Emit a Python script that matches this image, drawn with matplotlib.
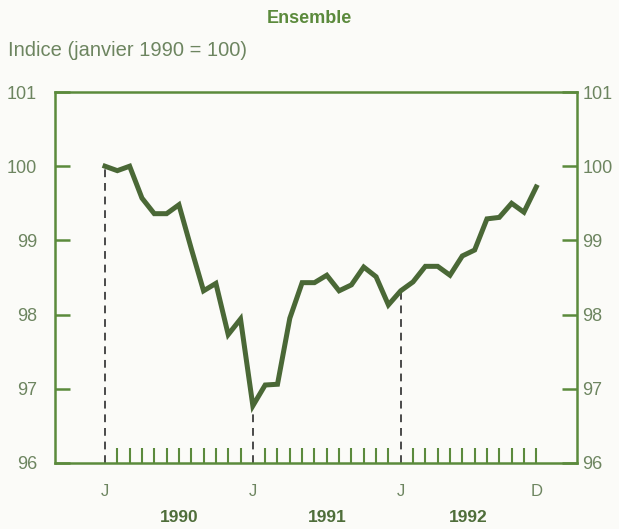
import numpy as np
import matplotlib
matplotlib.use('Agg')
import matplotlib.pyplot as plt
import matplotlib.transforms as mtransforms

# indice mensuel, janvier 1990 a decembre 1992
mois = np.arange(36)
indice = [100.00, 99.94, 100.00, 99.57, 99.36, 99.36, 99.48, 98.89, 98.32, 98.42, 97.73, 97.94,
          96.77, 97.05, 97.06, 97.95, 98.43, 98.43, 98.53, 98.32, 98.40, 98.64, 98.51, 98.13,
          98.32, 98.44, 98.65, 98.65, 98.53, 98.79, 98.87, 99.29, 99.31, 99.50, 99.38, 99.72]
mois_labels = ['J', 'J', 'J', 'D']
mois_pos = [0, 12, 24, 35]
annees = ['1990', '1991', '1992']
annees_pos = [6, 18, 29.5]
reperes = [0, 12, 24]  # lignes pointillees
y_ticks = [96, 97, 98, 99, 100, 101]

vert = '#5b8a3c'
gris_vert = '#6d8560'
plt.rcParams['font.family'] = ['Liberation Sans', 'DejaVu Sans']

fig = plt.figure(figsize=(6.19, 5.29), dpi=100, facecolor='#fbfbf8')
ax = fig.add_axes([0.089, 0.125, 0.843, 0.701])
ax.set_facecolor('#fbfbf8')

ax.plot(mois, indice, color='#4a6836', lw=3.6, solid_joinstyle='miter', zorder=3)
ax.vlines(reperes, 96, [indice[i] for i in reperes], colors='#4a4a4a',
          linestyles=(0, (4, 3)), lw=1.4, zorder=2)

ax.set_xlim(-4.05, 38.3)
ax.set_ylim(96, 101)

for s in ax.spines.values():
    s.set_color(vert)
    s.set_linewidth(1.8)

ax.set_yticks(y_ticks)
ax.set_yticklabels([str(v) for v in y_ticks])
ax.tick_params(axis='y', direction='in', length=11, width=1.8, color=vert,
               left=True, right=False, labelsize=13, labelcolor=gris_vert, pad=13)

# axe de droite (memes graduations)
ax2 = ax.twinx()
ax2.set_ylim(96, 101)
ax2.set_yticks(y_ticks)
ax2.set_yticklabels([str(v) for v in y_ticks])
ax2.tick_params(axis='y', direction='in', length=11, width=1.8, color=vert,
                labelsize=13, labelcolor=gris_vert, pad=4)
for s in ax2.spines.values():
    s.set_visible(False)

ax.xaxis.remove_overlapping_locs = False
ax.set_xticks(mois_pos)
ax.set_xticklabels(mois_labels)
ax.set_xticks([m for m in mois if m not in reperes], minor=True)
ax.tick_params(axis='x', which='major', length=0, labelsize=12, labelcolor=gris_vert, pad=15)
ax.tick_params(axis='x', which='minor', direction='in', length=11, width=1.5, color=vert)

trans = mtransforms.blended_transform_factory(ax.transData, ax.transAxes)
for a, x in zip(annees, annees_pos):
    ax.text(x, -0.148, a, transform=trans, ha='center', va='center',
            fontsize=12.5, fontweight='bold', color='#4f6e3a')

fig.text(0.5, 0.965, 'Ensemble', ha='center', va='center', fontsize=13,
         fontweight='bold', color=vert)
fig.text(0.013, 0.905, 'Indice (janvier 1990 = 100)', ha='left', va='center',
         fontsize=14.5, color=gris_vert)

plt.savefig('out.png', dpi=100, facecolor=fig.get_facecolor())
